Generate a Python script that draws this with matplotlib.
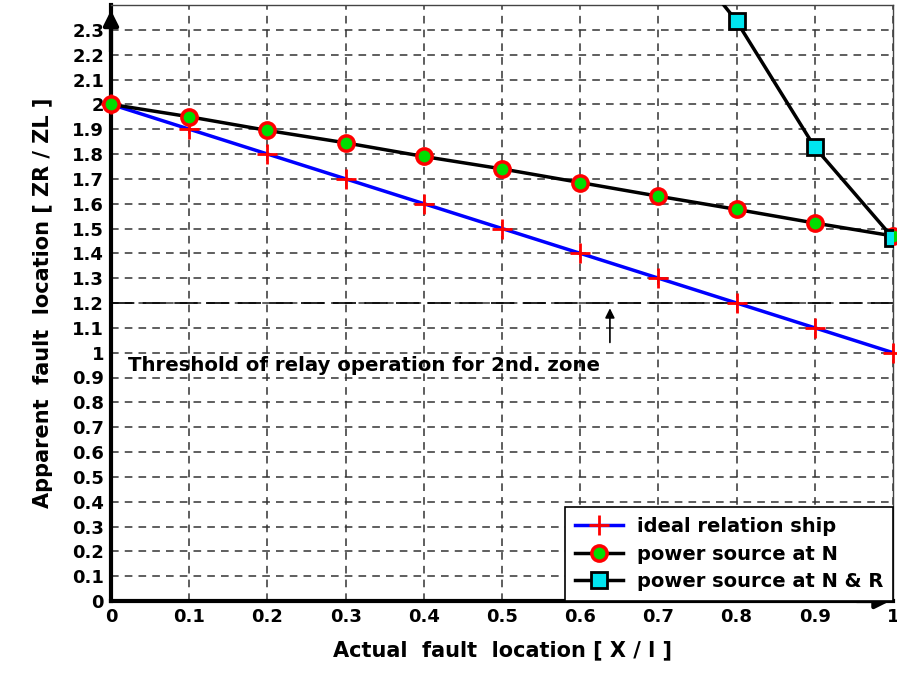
import matplotlib
matplotlib.use("Agg")
import matplotlib.pyplot as plt
import numpy as np

x = [0, 0.1, 0.2, 0.3, 0.4, 0.5, 0.6, 0.7, 0.8, 0.9, 1.0]
ideal = [2.0, 1.9, 1.8, 1.7, 1.6, 1.5, 1.4, 1.3, 1.2, 1.1, 1.0]
source_n = [2.0, 1.95, 1.895, 1.845, 1.79, 1.74, 1.685, 1.63, 1.577, 1.522, 1.47]
x_nr = [0.7, 0.8, 0.9, 1.0]
source_nr = [2.73, 2.335, 1.827, 1.462]
threshold = 1.2
xticks = [0, 0.1, 0.2, 0.3, 0.4, 0.5, 0.6, 0.7, 0.8, 0.9, 1]
xticklabels = ["0", "0.1", "0.2", "0.3", "0.4", "0.5", "0.6", "0.7", "0.8", "0.9", "1"]
yticks = [round(0.1 * i, 1) for i in range(24)]
yticklabels = ["0", "0.1", "0.2", "0.3", "0.4", "0.5", "0.6", "0.7", "0.8", "0.9", "1",
               "1.1", "1.2", "1.3", "1.4", "1.5", "1.6", "1.7", "1.8", "1.9", "2",
               "2.1", "2.2", "2.3"]

plt.rcParams['font.family'] = ['DejaVu Sans']
fig = plt.figure(figsize=(8.97, 6.73), dpi=100)
ax = fig.add_axes([111/897, 72/673, 782/897, 596/673])

ax.set_xlim(0, 1)
ax.set_ylim(0, 2.4)
ax.set_xticks(xticks)
ax.set_xticklabels(xticklabels, fontsize=13, fontweight='bold')
ax.set_yticks(yticks)
ax.set_yticklabels(yticklabels, fontsize=13, fontweight='bold')
ax.tick_params(length=0, pad=5)
ax.grid(True, color='#333333', linestyle=(0, (5, 4)), linewidth=1.1)
ax.set_axisbelow(True)

for s in ['top', 'right']:
    ax.spines[s].set_linewidth(1.0)
    ax.spines[s].set_color('#444444')
for s in ['left', 'bottom']:
    ax.spines[s].set_linewidth(3)
    ax.spines[s].set_color('black')

ax.axhline(threshold, color='black', linewidth=1.2, linestyle=(0, (14, 5)), zorder=2)

ax.plot(x, ideal, color='blue', linewidth=2.5, marker='+', markersize=14,
        markeredgecolor='red', markeredgewidth=2, label='ideal relation ship', zorder=3,
        clip_on=False)
ax.plot(x, source_n, color='black', linewidth=2.5, marker='o', markersize=11,
        markerfacecolor='#00dd00', markeredgecolor='red', markeredgewidth=2.5,
        label='power source at N', zorder=4, clip_on=False)
ax.plot(x_nr, source_nr, color='black', linewidth=2.5, marker='s', markersize=11,
        markerfacecolor='#00e5f0', markeredgecolor='black', markeredgewidth=2,
        label='power source at N & R', zorder=5)

ax.annotate('', xy=(0.638, 1.19), xytext=(0.638, 1.03),
            arrowprops=dict(arrowstyle='-|>', color='black', lw=1.2, mutation_scale=14))
ax.text(0.022, 0.95, 'Threshold of relay operation for 2nd. zone', fontsize=14.2,
        fontweight='bold', va='center', ha='left', zorder=6)

# axis arrows
ax.annotate('', xy=(0, 2.39), xytext=(0, 2.2),
            arrowprops=dict(arrowstyle='-|>', color='black', lw=3, mutation_scale=22),
            annotation_clip=False)
ax.annotate('', xy=(1.0, 0), xytext=(0.95, 0),
            arrowprops=dict(arrowstyle='-|>', color='black', lw=3, mutation_scale=22),
            annotation_clip=False)

leg = ax.legend(loc='lower right', prop={'weight': 'bold', 'size': 14},
                fancybox=False, edgecolor='black', framealpha=1, borderaxespad=0,
                handlelength=2.5, labelspacing=0.45, borderpad=0.5, handletextpad=0.7)
leg.get_frame().set_linewidth(1.2)

ax.set_xlabel('Actual  fault  location [ X / l ]', fontsize=15, fontweight='bold', labelpad=10)
ax.set_ylabel('Apparent  fault  location [ ZR / ZL ]', fontsize=15, fontweight='bold', labelpad=14)

fig.savefig('out.png', dpi=100)
